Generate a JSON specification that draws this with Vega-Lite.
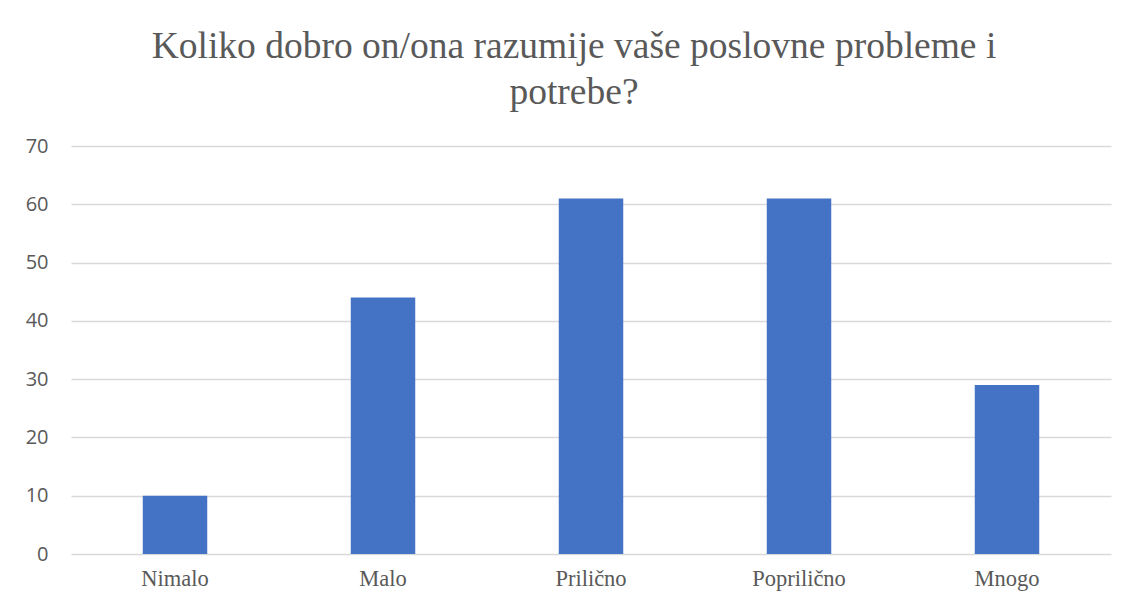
{
  "$schema": "https://vega.github.io/schema/vega-lite/v6.json",
  "autosize": "none",
  "width": 1040,
  "height": 408,
  "padding": {"left": 71, "top": 146, "right": 26, "bottom": 54},
  "background": "white",
  "title": {
    "text": ["Koliko dobro on/ona razumije vaše poslovne probleme i", "potrebe?"],
    "font": "Liberation Serif",
    "fontSize": 37.5,
    "fontWeight": "normal",
    "color": "#595959",
    "anchor": "middle",
    "frame": "group",
    "dx": -17,
    "offset": 25,
    "lineHeight": 46
  },
  "data": {
    "values": [
      {"odgovor": "Nimalo", "broj": 10},
      {"odgovor": "Malo", "broj": 44},
      {"odgovor": "Prilično", "broj": 61},
      {"odgovor": "Poprilično", "broj": 61},
      {"odgovor": "Mnogo", "broj": 29}
    ]
  },
  "mark": {"type": "bar", "color": "#4472C4"},
  "encoding": {
    "x": {
      "field": "odgovor",
      "type": "nominal",
      "sort": null,
      "scale": {"paddingInner": 0.69, "paddingOuter": 0.345},
      "axis": {
        "title": null,
        "labelAngle": 0,
        "labelFont": "Liberation Serif",
        "labelFontSize": 22.5,
        "labelColor": "#595959",
        "labelPadding": 13,
        "ticks": false,
        "domain": false
      }
    },
    "y": {
      "field": "broj",
      "type": "quantitative",
      "scale": {"domain": [0, 70], "nice": false},
      "axis": {
        "title": null,
        "values": [0, 10, 20, 30, 40, 50, 60, 70],
        "labelFont": "Open Sans",
        "labelFontSize": 20,
        "labelColor": "#595959",
        "labelPadding": 23,
        "ticks": false,
        "domain": false,
        "gridColor": "#D9D9D9",
        "gridWidth": 1.3
      }
    }
  },
  "config": {"view": {"stroke": null}}
}
